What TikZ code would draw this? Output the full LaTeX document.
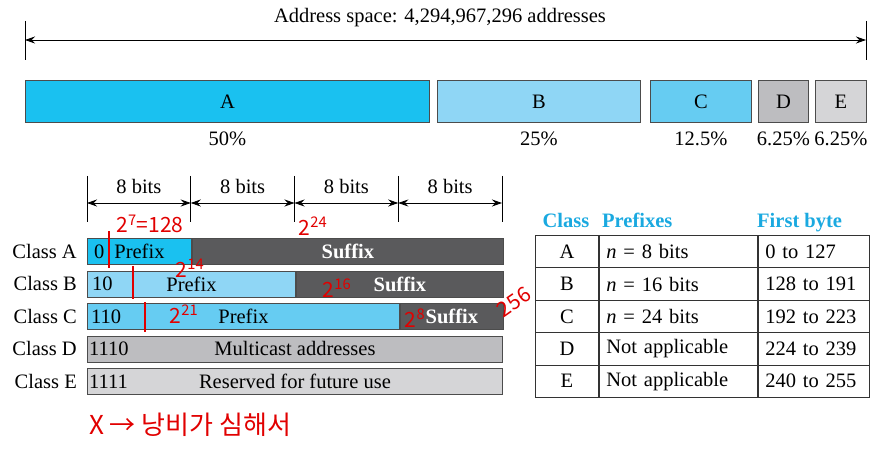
\documentclass[tikz,border=0pt]{standalone}
\usepackage{fontspec}
\setmainfont{Liberation Serif}
\newfontfamily\krfont{Noto Sans CJK KR}
\usepackage{tikz}
\usetikzlibrary{arrows.meta, positioning}
\definecolor{clsA}{RGB}{26,193,240}
\definecolor{clsB}{RGB}{143,214,245}
\definecolor{clsC}{RGB}{102,204,242}
\definecolor{clsD}{RGB}{189,189,192}
\definecolor{clsE}{RGB}{213,213,215}
\definecolor{sufgray}{RGB}{90,90,92}
\definecolor{headblue}{RGB}{26,169,224}
\definecolor{pen}{RGB}{225,0,0}

\begin{document}
\begin{tikzpicture}[x=1pt,y=-1pt,
  every node/.style={inner sep=0pt,font=\fontsize{20.5}{24}\selectfont},
  blk/.style={draw=black!70,line width=0.9pt,anchor=north west,minimum height=42pt},
  fld/.style={draw=black!70,line width=0.9pt,anchor=north west,minimum height=26pt},
  sfx/.style={fld,fill=sufgray,text=white,font=\fontsize{20.5}{24}\selectfont\bfseries},
  cell/.style={draw=black!80,line width=0.9pt,anchor=north west,minimum height=32.4pt,inner xsep=7pt},
  head/.style={text=headblue,anchor=base west,font=\fontsize{20.5}{24}\selectfont\bfseries},
  dimline/.style={{Stealth[length=10pt,width=7pt]}-{Stealth[length=10pt,width=7pt]},line width=0.8pt},
  note/.style={text=pen,font=\fontsize{21}{23}\selectfont\krfont}]
  \useasboundingbox (0,0) rectangle (883,449);

  % address space
  \node (title) at (440,18) {Address space: 4,294,967,296 addresses};
  \coordinate (spL) at (25,40);
  \coordinate (spR) at (866,40);
  \draw[line width=0.8pt] (25,21) -- (25,60) (866,21) -- (866,60);
  \draw[dimline] (spL) -- (spR);

  \node[blk,fill=clsA,minimum width=404pt] (barA) at (25,80) {A};
  \node[blk,fill=clsB,minimum width=203pt] (barB) at (437,80) {B};
  \node[blk,fill=clsC,minimum width=101pt] (barC) at (650,80) {C};
  \node[blk,fill=clsD,minimum width=50pt] (barD) at (758,80) {D};
  \node[blk,fill=clsE,minimum width=51pt] (barE) at (815,80) {E};
  \node[below=9pt of barA] (perA) {50\%};
  \node[below=9pt of barB] (perB) {25\%};
  \node[below=9pt of barC] (perC) {12.5\%};
  \node[below=9pt of barD] (perD) {6.25\%};
  \node[below=9pt of barE] (perE) {6.25\%};

  % bytes
  \foreach \i [evaluate=\i as \x using 87+103.75*\i] in {0,...,4} {
    \coordinate (b\i) at (\x,203);
    \draw[line width=0.8pt] (\x,176) -- (\x,222);
  }
  \foreach \i/\j in {0/1,1/2,2/3,3/4}
    \draw[dimline] (b\i) -- (b\j) node[midway,above=9pt] {8 bits};

  % classes
  \node[fld,fill=clsA,minimum width=104pt] (pfA) at (87,238) {Prefix};
  \node[sfx,minimum width=311pt] (sfA) at (pfA.north east) {Suffix};
  \node[fld,fill=clsB,minimum width=208pt] (pfB) at (87,270.5) {Prefix};
  \node[sfx,minimum width=207pt] (sfB) at (pfB.north east) {Suffix};
  \node[fld,fill=clsC,minimum width=312pt] (pfC) at (87,303) {Prefix};
  \node[sfx,minimum width=103pt] (sfC) at (pfC.north east) {Suffix};
  \node[fld,fill=clsD,minimum width=415pt] (pfD) at (87,335.5) {Multicast addresses};
  \node[fld,fill=clsE,minimum width=415pt] (pfE) at (87,368) {Reserved for future use};

  \node[anchor=west] (cdA) at ([xshift=7pt]pfA.west) {0};
  \node[anchor=west] (cdB) at ([xshift=5pt]pfB.west) {10};
  \node[anchor=west] (cdC) at ([xshift=4pt]pfC.west) {110};
  \node[anchor=west] (cdD) at ([xshift=2pt]pfD.west) {1110};
  \node[anchor=west] (cdE) at ([xshift=2pt]pfE.west) {1111};
  \foreach \c in {A,B,C,D,E}
    \node[anchor=east] (lb\c) at ([xshift=-10pt]pf\c.west) {Class \c};

  % table
  \node[head,anchor=base] (hCls) at (566,227) {Class};
  \node[head] (hPre) at (602,227) {Prefixes};
  \node[head] (hFb) at (757,227) {First byte};
  \foreach \c/\p/\f [count=\r from 0] in
      {A/{\textit{n} = 8 bits}/0 to 127,
       B/{\textit{n} = 16 bits}/128 to 191,
       C/{\textit{n} = 24 bits}/192 to 223,
       D/Not applicable/224 to 239,
       E/Not applicable/240 to 255} {
    \node[cell,text width=49pt,align=center] (tc\c) at (535,{235+32.4*\r}) {\c};
    \node[cell,text width=144pt,align=left] (tp\c) at (tc\c.north east) {\p};
    \node[cell,text width=97pt,align=left] (tf\c) at (tp\c.north east) {\f};
  }

  % handwritten notes
  \draw[pen,line width=2pt] (109,231) -- (109,268);
  \draw[pen,line width=2pt] (133,266) -- (133,299);
  \draw[pen,line width=2pt] (145,302) -- (145,332);
  \node[note] (n128) at (150,224) {2\textsuperscript{7}=128};
  \node[note] (n24) at (313,226) {2\textsuperscript{24}};
  \node[note] (n14) at (190,268) {2\textsuperscript{14}};
  \node[note] (n16) at (337,288) {2\textsuperscript{16}};
  \node[note] (n21) at (184,314) {2\textsuperscript{21}};
  \node[note] (n8) at (415,318) {2\textsuperscript{8}};
  \node[note,rotate=35] (n256) at (514,302) {256};
  \node[note,font=\fontsize{26}{30}\selectfont\krfont] (nko) at (190,425) {X → 낭비가 심해서};
\end{tikzpicture}
\end{document}
